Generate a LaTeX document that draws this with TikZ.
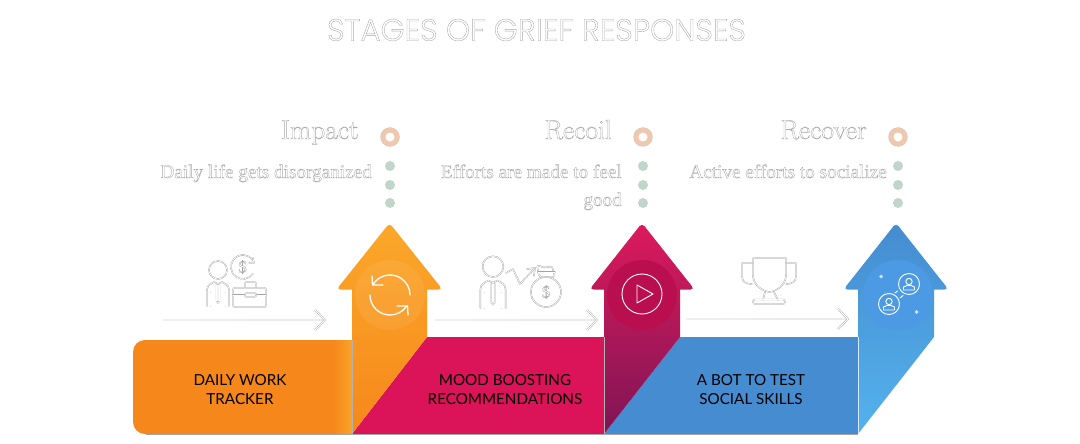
\documentclass[tikz,border=0pt]{standalone}
\usepackage{fontspec}
\setmainfont{Latin Modern Roman}
\newfontfamily\titlef{Poppins Light}
\newfontfamily\labf{Lato}
\newfontfamily\descf{Liberation Serif}
\usetikzlibrary{arrows.meta,fadings}
\definecolor{orA}{HTML}{FBA82A}
\definecolor{orB}{HTML}{F6871A}
\definecolor{piA}{HTML}{DC1A5C}
\definecolor{piB}{HTML}{A5145A}
\definecolor{piC}{HTML}{7F1555}
\definecolor{pink}{HTML}{DB1459}
\definecolor{blA}{HTML}{458CD0}
\definecolor{blB}{HTML}{4A9AD9}
\definecolor{blC}{HTML}{54B2EC}
\definecolor{ring}{HTML}{EFC8AD}
\definecolor{dotc}{HTML}{C0D6CA}
\definecolor{circP}{HTML}{B90F4E}
\definecolor{circB}{HTML}{4C9AE4}
\newcommand\outl[1]{\special{pdf:code 1 Tr 0.36 w 0.66 G}#1\special{pdf:code 0 Tr}}
\tikzset{
  x=1pt,y=-1pt,
  iconln/.style={draw=black!36,double=white,double distance=.6pt,line width=.4pt,line join=round,line cap=round},
  stemln/.style={draw=black!42,double=black!8,double distance=1.1pt,line width=.45pt,line join=round},
  whln/.style={draw=white,line width=1.3pt,line cap=round,line join=round},
  wthin/.style={draw=white,line width=.9pt,line cap=round,line join=round},
  ringc/.style={circle,draw=black!25,line width=.2pt,fill=ring,minimum size=19pt,inner sep=0pt},
  ringh/.style={circle,fill=white,minimum size=9pt,inner sep=0pt},
  dotn/.style={circle,fill=dotc,minimum size=10pt,inner sep=0pt},
  head/.style={anchor=base east,inner sep=0pt,font=\fontsize{27.5}{30}\selectfont},
  desc/.style={anchor=base east,inner sep=0pt,font=\descf\fontsize{19.2}{24}\selectfont},
  lab/.style={align=center,inner sep=0pt,text=black,font=\labf\fontsize{15.2}{19}\selectfont},
  person/.pic={
    \draw[iconln] (0,-9) circle[radius=9];
    \draw[iconln] (-11,27) -- (-11,11) .. controls (-11,6) and (-7,5) .. (-4,3) -- (0,5) -- (4,3) .. controls (7,5) and (11,6) .. (11,11) -- (11,27);
    \draw[iconln] (-7.5,14) -- (-7.5,27) (7.5,14) -- (7.5,27);
    \draw[iconln] (-1.5,6) -- (-1.5,22) -- (0,24) -- (1.5,22) -- (1.5,6);
  },
  botperson/.pic={
    \draw[wthin] (0,0) circle[radius=10.5];
    \draw[wthin] (0,-2.5) circle[radius=3.2];
    \draw[wthin] (-5.5,6) -- (-5.5,3) -- (-2,1.5) -- (2,1.5) -- (5.5,3) -- (5.5,6) -- cycle;
  }
}
\begin{document}
\begin{tikzpicture}
\useasboundingbox (0,0) rectangle (1080,444);
\fill[white] (0,0) rectangle (1080,444);

% title
\node[inner sep=0pt,font=\titlef\fontsize{30.7}{36}\selectfont] (title) at (536.5,30) {\outl{STAGES OF GRIEF RESPONSES}};

% bars
\fill[orB] (352,340) [rounded corners=12] -- (133,340) -- (133,434) [sharp corners] -- (352,434) -- cycle;
\shade[left color=orB,right color=orA!85!orB] (333,340) rectangle (352,434);
\fill[pink] (427,337) -- (604,337) -- (604,434) -- (352,434) -- cycle;
\fill[blA] (680,337) -- (858,337) -- (858,434) -- (604,434) -- cycle;
\draw[black!35,line width=.4pt] (146,434) -- (858,434);

% up arrows
\shade[top color=orA,middle color=orB,bottom color=orB] (352,434) -- (352,289.5) [rounded corners=4] -- (336.5,289.5) -- (389.5,223) -- (442.5,289.5) [sharp corners] -- (427,289.5) -- (427,337) -- cycle;
\shade[top color=piA,middle color=piB,bottom color=piC] (604,434) -- (604,289.5) [rounded corners=4] -- (589.5,289.5) -- (642,223) -- (694.5,289.5) [sharp corners] -- (680,289.5) -- (680,337) -- cycle;
\shade[top color=blA,middle color=blB,bottom color=blC] (858,434) -- (858,289.5) [rounded corners=4] -- (843.5,289.5) -- (896,223) -- (948.5,289.5) [sharp corners] -- (934,289.5) -- (934,337) -- cycle;
\draw[black!30,line width=.4pt] (352,340) -- (352,434);
\draw[white!70!black,line width=.5pt] (604,337) -- (604,434);
\draw[white!75!blC,line width=.5pt] (858,337) -- (858,434);

% circles in arrows
\fill[white,fill opacity=.07] (390,295) circle[radius=35];
\fill[circP] (642,295) circle[radius=35];
\fill[circB] (898,295) circle[radius=35];

% sync icon
\draw[whln] (372.9,284.7) arc[start angle=211,end angle=360,radius=20];
\draw[whln] (372,276) -- (372.5,285) -- (383,285);
\draw[whln] (370,295) arc[start angle=180,end angle=34,radius=20];
\draw[whln] (408,315) -- (407.5,306) -- (397,306);

% play icon
\draw[wthin] (642,294) circle[radius=20];
\draw[wthin] (637,285) -- (637,303) -- (653,294) -- cycle;

% people icon
\pic at (909,284) {botperson};
\pic at (889,304) {botperson};
\draw[wthin] (895,293) -- (897.5,291) (900,298) -- (903,295.5);
\fill[white,fill opacity=.7] (881,274.5) -- (883,276.5) -- (881,278.5) -- (879,276.5) -- cycle;
\fill[white,fill opacity=.7] (916.5,310) -- (918.5,312) -- (916.5,314) -- (914.5,312) -- cycle;

% bar labels
\node[lab] (l1) at (240,389.5) {DAILY WORK\\TRACKER};
\node[lab] (l2) at (505,389.5) {MOOD BOOSTING\\RECOMMENDATIONS};
\node[lab] (l3) at (751,389.5) {A BOT TO TEST\\SOCIAL SKILLS};

% headings
\node[head] (h1) at (359,139) {\outl{Impact}};
\node[head] (h2) at (612,139) {\outl{Recoil}};
\node[head] (h3) at (867,139) {\outl{Recover}};
\node[desc] (d1) at (372,178) {\outl{Daily life gets disorganized}};
\node[desc] (d2) at (622,178) {\outl{Efforts are made to feel}};
\node[desc] (d2b) at (622,206) {\outl{good}};
\node[desc] (d3) at (887,178) {\outl{Active efforts to socialize}};

% rings and dots
\foreach \x/\n in {390/a,643/b,898/c}{
  \node[ringc] (r\n) at (\x,137) {};
  \node[ringh] at (\x,137) {};
  \node[dotn] (p\n1) at (\x,166) {};
  \node[dotn] (p\n2) at (\x,185) {};
  \node[dotn] (p\n3) at (\x,203) {};
}

% long arrows
\coordinate (s1) at (163,320); \coordinate (e1) at (325,320);
\coordinate (s2) at (435,320); \coordinate (e2) at (597,320);
\coordinate (s3) at (686,319); \coordinate (e3) at (848,319);
\foreach \n in {1,2,3}{
  \draw[stemln] (s\n) -- (e\n);
  \fill[white,fill opacity=.3,path fading=east] ([shift={(-.5,-2)}]s\n) rectangle ([shift={(-60,2)}]e\n);
  \draw[stemln,double=white] ([shift={(-10,-10)}]e\n) -- (e\n) -- ([shift={(-10,10)}]e\n);
}

% person + coin + briefcase
\pic at (218,279) {person};
\draw[iconln] (243,267) ++(35:12) arc[start angle=35,end angle=325,radius=12];
\draw[iconln] (253,258) -- (254,263) -- (249,263);
\node[inner sep=0pt,font=\descf\fontsize{17}{17}\selectfont] (coin) at (242.5,267) {\outl{\$}};
\fill[white] (232,287) rectangle (267,308);
\draw[iconln,rounded corners=1] (233,288) rectangle (266,307);
\draw[iconln,rounded corners=1] (245,287) -- (245,282) -- (256,282) -- (256,287);
\draw[iconln] (233,295) -- (245,295) (256,295) -- (266,295);
\draw[iconln,rounded corners=1] (245,293) rectangle (256,297);

% person + chart + bag
\pic[scale=1.15] at (493,277) {person};
\draw[iconln] (506,273) -- (513,269) -- (520,284) -- (535,268);
\draw[iconln] (527,269) -- (535,268) -- (534,276);
\draw[iconln] (546,292) circle[radius=15];
\draw[iconln,rounded corners=2] (539,277) -- (537,265) -- (545,268) -- (552,266) -- (555,277) -- cycle;
\draw[iconln] (538,272) -- (555,272);
\node[inner sep=0pt,font=\descf\fontsize{17}{17}\selectfont] (bag) at (546,292) {\outl{\$}};

% trophy
\draw[iconln] (753,258) -- (786,258) -- (786,275) .. controls (786,285) and (777,291) .. (769.5,292) .. controls (762,291) and (753,285) .. (753,275) -- cycle;
\draw[iconln] (753,263) -- (742,263) -- (742,276) .. controls (742,282) and (746,284) .. (752,284);
\draw[iconln] (786,263) -- (796,263) -- (796,276) .. controls (796,282) and (792,284) .. (786,284);
\draw[iconln] (765,292) -- (763,300) (774,292) -- (778,300);
\draw[iconln,rounded corners=2] (753,299.5) rectangle (785,304);
\end{tikzpicture}
\end{document}
